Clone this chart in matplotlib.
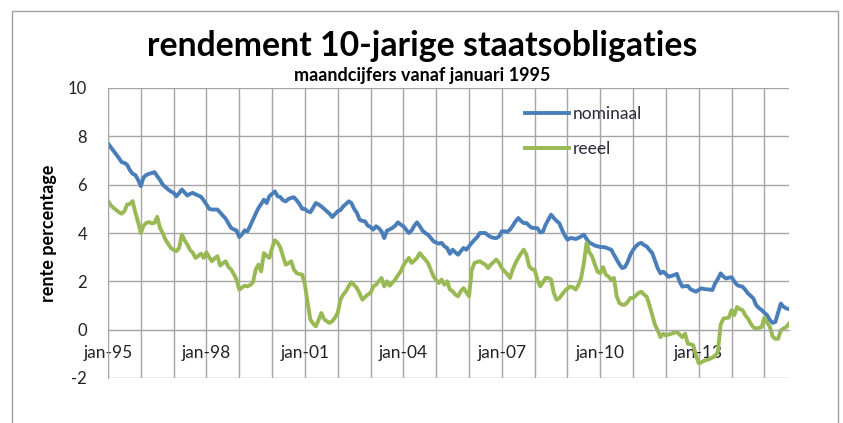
import matplotlib
matplotlib.use("Agg")
import matplotlib.pyplot as plt
from matplotlib.patches import Rectangle
import numpy as np

nominaal = [
    7.71, 7.55, 7.40, 7.25, 7.10, 6.93, 6.90, 6.82, 6.60, 6.45, 6.40, 6.20,  # 1995
    5.94, 6.30, 6.40, 6.45, 6.48, 6.52, 6.35, 6.20, 6.00, 5.90, 5.80, 5.72,  # 1996
    5.66, 5.52, 5.65, 5.80, 5.68, 5.55, 5.62, 5.66, 5.60, 5.55, 5.50, 5.35,  # 1997
    5.18, 5.00, 4.97, 4.97, 4.97, 4.85, 4.72, 4.60, 4.40, 4.21, 4.15, 4.10,  # 1998
    3.83, 3.95, 4.11, 4.07, 4.30, 4.55, 4.80, 5.03, 5.20, 5.38, 5.24, 5.52,  # 1999
    5.62, 5.72, 5.52, 5.49, 5.35, 5.31, 5.41, 5.45, 5.48, 5.35, 5.20, 5.00,  # 2000
    4.99, 4.90, 4.86, 5.05, 5.24, 5.18, 5.10, 5.00, 4.90, 4.80, 4.66, 4.78,  # 2001
    4.90, 4.95, 5.10, 5.20, 5.31, 5.24, 5.00, 4.83, 4.55, 4.50, 4.48, 4.30,  # 2002
    4.25, 4.14, 4.28, 4.20, 4.07, 3.79, 4.10, 4.15, 4.21, 4.30, 4.44, 4.35,  # 2003
    4.28, 4.14, 4.00, 4.10, 4.30, 4.44, 4.28, 4.10, 4.00, 3.93, 3.80, 3.66,  # 2004
    3.60, 3.56, 3.59, 3.45, 3.38, 3.14, 3.31, 3.20, 3.10, 3.25, 3.38, 3.31,  # 2005
    3.45, 3.59, 3.72, 3.83, 4.00, 4.00, 4.00, 3.90, 3.83, 3.80, 3.79, 3.86,  # 2006
    4.07, 4.07, 4.05, 4.14, 4.30, 4.48, 4.62, 4.50, 4.41, 4.41, 4.30, 4.21,  # 2007
    4.21, 4.20, 4.03, 4.05, 4.34, 4.55, 4.76, 4.62, 4.50, 4.41, 4.14, 3.90,  # 2008
    3.72, 3.79, 3.78, 3.75, 3.80, 3.86, 3.93, 3.75, 3.59, 3.55, 3.48, 3.45,  # 2009
    3.42, 3.42, 3.40, 3.35, 3.31, 3.10, 2.90, 2.70, 2.55, 2.59, 2.80, 3.10,  # 2010
    3.30, 3.45, 3.55, 3.59, 3.50, 3.44, 3.30, 3.17, 2.85, 2.54, 2.33, 2.40,  # 2011
    2.30, 2.19, 2.22, 2.26, 2.31, 1.99, 1.78, 1.80, 1.81, 1.67, 1.62, 1.57,  # 2012
    1.65, 1.71, 1.68, 1.67, 1.66, 1.64, 1.92, 2.10, 2.33, 2.20, 2.12, 2.15,  # 2013
    2.17, 2.00, 1.85, 1.80, 1.78, 1.65, 1.50, 1.40, 1.29, 1.01, 0.90, 0.81,  # 2014
    0.70, 0.60, 0.40, 0.28, 0.32, 0.70, 1.08, 0.95, 0.88, 0.85,              # 2015
]

reeel = [
    5.32, 5.15, 5.04, 4.95, 4.86, 4.80, 4.90, 5.18, 5.20, 5.32, 4.85, 4.45,  # 1995
    4.00, 4.30, 4.42, 4.45, 4.40, 4.42, 4.67, 4.21, 4.00, 3.73, 3.55, 3.38,  # 1996
    3.30, 3.25, 3.38, 3.94, 3.70, 3.52, 3.30, 3.18, 2.97, 3.05, 3.15, 2.97,  # 1997
    3.20, 3.00, 2.83, 2.95, 3.04, 2.65, 2.75, 2.83, 2.60, 2.49, 2.30, 2.07,  # 1998
    1.65, 1.75, 1.82, 1.79, 1.85, 1.96, 2.48, 2.69, 2.41, 3.17, 3.05, 2.97,  # 1999
    3.38, 3.70, 3.60, 3.40, 3.03, 2.69, 2.75, 2.83, 2.48, 2.34, 2.30, 2.28,  # 2000
    1.86, 1.10, 0.41, 0.25, 0.14, 0.40, 0.69, 0.44, 0.35, 0.28, 0.35, 0.50,  # 2001
    0.70, 1.24, 1.45, 1.59, 1.80, 1.96, 1.85, 1.72, 1.50, 1.24, 1.35, 1.45,  # 2002
    1.52, 1.79, 1.86, 2.00, 2.14, 1.79, 2.00, 1.82, 1.95, 2.07, 2.25, 2.41,  # 2003
    2.65, 2.83, 2.97, 2.76, 2.85, 2.97, 3.17, 3.03, 2.90, 2.76, 2.48, 2.21,  # 2004
    2.05, 1.93, 2.07, 1.86, 2.00, 1.66, 1.59, 1.45, 1.38, 1.59, 1.72, 1.55,  # 2005
    1.38, 2.48, 2.76, 2.80, 2.83, 2.75, 2.69, 2.55, 2.70, 2.80, 2.90, 2.76,  # 2006
    2.55, 2.41, 2.30, 2.14, 2.50, 2.75, 2.97, 3.15, 3.31, 3.10, 2.62, 2.50,  # 2007
    2.48, 2.07, 1.79, 1.95, 2.14, 2.14, 2.07, 1.52, 1.24, 1.30, 1.45, 1.60,  # 2008
    1.70, 1.79, 1.75, 1.66, 1.85, 2.14, 2.76, 3.59, 3.20, 3.03, 2.70, 2.40,  # 2009
    2.34, 2.59, 2.28, 2.20, 2.07, 2.14, 1.38, 1.10, 1.03, 1.03, 1.15, 1.31,  # 2010
    1.31, 1.41, 1.52, 1.57, 1.45, 1.36, 1.00, 0.60, 0.20, -0.03, -0.31, -0.17,  # 2011
    -0.24, -0.20, -0.17, -0.12, -0.10, -0.20, -0.31, -0.17, -0.58, -0.60, -0.65, -1.07,  # 2012
    -1.39, -1.35, -1.28, -1.25, -1.21, -1.15, -1.10, -0.90, 0.20, 0.46, 0.48, 0.50,  # 2013
    0.81, 0.60, 0.94, 0.85, 0.81, 0.60, 0.46, 0.25, 0.10, 0.04, 0.08, 0.11,  # 2014
    0.50, 0.30, 0.11, -0.28, -0.38, -0.38, -0.03, 0.05, 0.11, 0.25,          # 2015
]

jaarlabels = ["jan-95", "jan-98", "jan-01", "jan-04", "jan-07", "jan-10", "jan-13"]

plt.rcParams['font.family'] = ['Lato', 'DejaVu Sans']
plt.rcParams['axes.unicode_minus'] = False

W, H = 843, 423
fig = plt.figure(figsize=(W / 100, H / 100), dpi=100)
ax = fig.add_axes([108 / W, 1 - 378 / H, (789 - 108) / W, (378 - 88) / H])

x = np.arange(len(nominaal))
ax.plot(x, nominaal, color='#4A7EBB', lw=2.8, label='nominaal', solid_joinstyle='round')
ax.plot(x, reeel, color='#98B954', lw=2.8, label='reeel', solid_joinstyle='round')

ax.set_xlim(0, len(nominaal) - 1)
ax.set_ylim(-2, 10)
ax.set_yticks(range(-2, 11, 2))
ax.set_xticks(np.arange(0, len(nominaal), 36))
ax.set_xticklabels(jaarlabels)
ax.set_xticks(np.arange(0, len(nominaal), 12), minor=True)

gc = '#A5A5A5'
ax.grid(True, which='both', color=gc, lw=1)
ax.set_axisbelow(True)
for s in ['top', 'right']:
    ax.spines[s].set_visible(False)
ax.spines['left'].set_color(gc)
ax.spines['bottom'].set_color(gc)
ax.spines['bottom'].set_position(('data', 0))
ax.tick_params(which='both', length=0)
ax.tick_params(axis='y', pad=15, labelsize=12, labelcolor='#222222')
ax.tick_params(axis='x', pad=11, labelsize=12.5, labelcolor='#222222')

ax.set_ylabel('rente percentage', fontsize=13, fontweight='bold', labelpad=8)

ax.legend(loc='upper left', bbox_to_anchor=(0.613, 0.937), frameon=False,
          borderpad=0, borderaxespad=0, handlelength=2.5, handletextpad=0.25,
          labelspacing=1.1, fontsize=12.5, labelcolor='#2a2a3a')

fig.text(422 / W, 1 - 46 / H, 'rendement 10-jarige staatsobligaties',
         ha='center', va='center', fontsize=24.3, fontweight='bold')
fig.text(422 / W, 1 - 75 / H, 'maandcijfers vanaf januari 1995',
         ha='center', va='center', fontsize=13, fontweight='bold')

fig.patches.append(Rectangle((12 / W, -0.05), (838 - 12) / W, 1.05 - 11 / H,
                             transform=fig.transFigure, fill=False,
                             edgecolor='#A0A0A0', lw=1))

fig.savefig('out.png', dpi=100)
